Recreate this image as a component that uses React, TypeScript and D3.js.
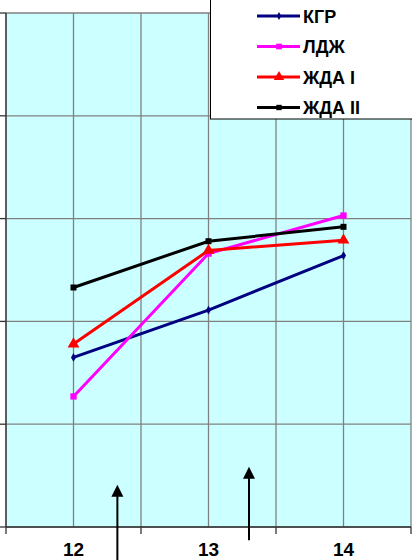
import * as d3 from 'd3';

const categories = ['12', '13', '14'];
const yTicks = [0, 1, 2, 3, 4, 5];

const kgr = [1.65, 2.11, 2.64];
const ldzh = [1.27, 2.66, 3.03];
const zhda1 = [1.78, 2.69, 2.79];
const zhda2 = [2.33, 2.78, 2.92];

const seriesNames = ['КГР', 'ЛДЖ', 'ЖДА I', 'ЖДА II'];

// annotation arrows: category position (fraction along axis) and tip / tail values
const arrowX = [0.275, 0.6];
const arrowTip = [0.41, 0.585];
const arrowTail = [-0.33, -0.13];

export default function App() {
  const width = 412;
  const height = 560;
  const margin = { top: 13, right: 1, bottom: 33, left: 6 };

  const x = d3.scaleBand<string>()
    .domain(categories)
    .range([margin.left, width - margin.right])
    .padding(0);
  const bw = x.bandwidth();
  const cx = (c: string) => (x(c) as number) + bw / 2;

  const y = d3.scaleLinear()
    .domain([0, 5])
    .range([height - margin.bottom, margin.top]);

  const styles = [
    { color: '#000080', symbol: d3.symbolDiamond, size: 22 },
    { color: '#FF00FF', symbol: d3.symbolSquare, size: 40 },
    { color: '#FF0000', symbol: d3.symbolTriangle, size: 60 },
    { color: '#000000', symbol: d3.symbolSquare, size: 36 },
  ];
  const data = [kgr, ldzh, zhda1, zhda2];

  const line = d3.line<number>()
    .x((_, i) => cx(categories[i]))
    .y(d => y(d));

  const x0 = margin.left;
  const x1 = width - margin.right;
  const plotW = x1 - x0;
  const vGrid = d3.range(categories.length * 2 + 1).map(i => x0 + (i * bw) / 2);
  const majorTicks = d3.range(categories.length + 1).map(i => x0 + i * bw);

  return (
    <svg width={width} height={height} style={{ position: 'absolute', left: 0, top: 0, background: '#fff' }}
      fontFamily="Arial, 'Liberation Sans', sans-serif">
      <rect x={x0} y={y(5)} width={plotW} height={y(0) - y(5)} fill="#CCFFFF" />
      {vGrid.map((gx, i) => (
        <line key={'v' + i} x1={gx} x2={gx} y1={y(5)} y2={y(0)} stroke="#808080" strokeWidth={1.3} />
      ))}
      {yTicks.map(t => (
        <line key={'h' + t} x1={x0} x2={x1} y1={y(t)} y2={y(t)} stroke="#808080" strokeWidth={1.3} />
      ))}
      {/* axes */}
      <line x1={x0} x2={x0} y1={y(5)} y2={y(0)} stroke="#333" strokeWidth={1.3} />
      <line x1={x0} x2={x1} y1={y(0)} y2={y(0)} stroke="#333" strokeWidth={1.3} />
      {yTicks.map(t => (
        <line key={'yt' + t} x1={0} x2={x0} y1={y(t)} y2={y(t)} stroke="#333" strokeWidth={1.3} />
      ))}
      {majorTicks.map((tx, i) => (
        <line key={'xt' + i} x1={tx} x2={tx} y1={y(0)} y2={y(0) + 7} stroke="#333" strokeWidth={1.3} />
      ))}
      {categories.map(c => (
        <text key={c} x={cx(c)} y={556} textAnchor="middle" fontSize={19} fontWeight="bold">{c}</text>
      ))}

      {/* series */}
      {data.map((vals, si) => (
        <g key={si}>
          <path d={line(vals) as string} fill="none" stroke={styles[si].color} strokeWidth={3} />
          {vals.map((v, i) => (
            <path key={i} transform={`translate(${cx(categories[i])},${y(v)})`}
              d={d3.symbol().type(styles[si].symbol).size(styles[si].size)() as string}
              fill={styles[si].color} />
          ))}
        </g>
      ))}

      {/* arrows */}
      {arrowX.map((f, i) => {
        const ax = x0 + f * plotW;
        const tip = y(arrowTip[i]);
        const tail = y(arrowTail[i]);
        return (
          <g key={'a' + i}>
            <line x1={ax} x2={ax} y1={tip + 10} y2={tail} stroke="#000" strokeWidth={2} />
            <path d={`M${ax},${tip} L${ax - 6},${tip + 12} L${ax + 6},${tip + 12} Z`} fill="#000" />
          </g>
        );
      })}

      {/* legend */}
      <rect x={210.5} y={-1} width={203} height={120} fill="#fff" stroke="#000" strokeWidth={1} />
      {seriesNames.map((name, i) => {
        const ly = 16 + i * 30.5;
        return (
          <g key={name}>
            <line x1={257} x2={300} y1={ly} y2={ly} stroke={styles[i].color} strokeWidth={3} />
            <path transform={`translate(279,${ly})`}
              d={d3.symbol().type(styles[i].symbol).size(styles[i].size * 0.8)() as string}
              fill={styles[i].color} />
            <text x={303} y={ly + 6.5} fontSize={18} fontWeight="bold">{name}</text>
          </g>
        );
      })}
    </svg>
  );
}
